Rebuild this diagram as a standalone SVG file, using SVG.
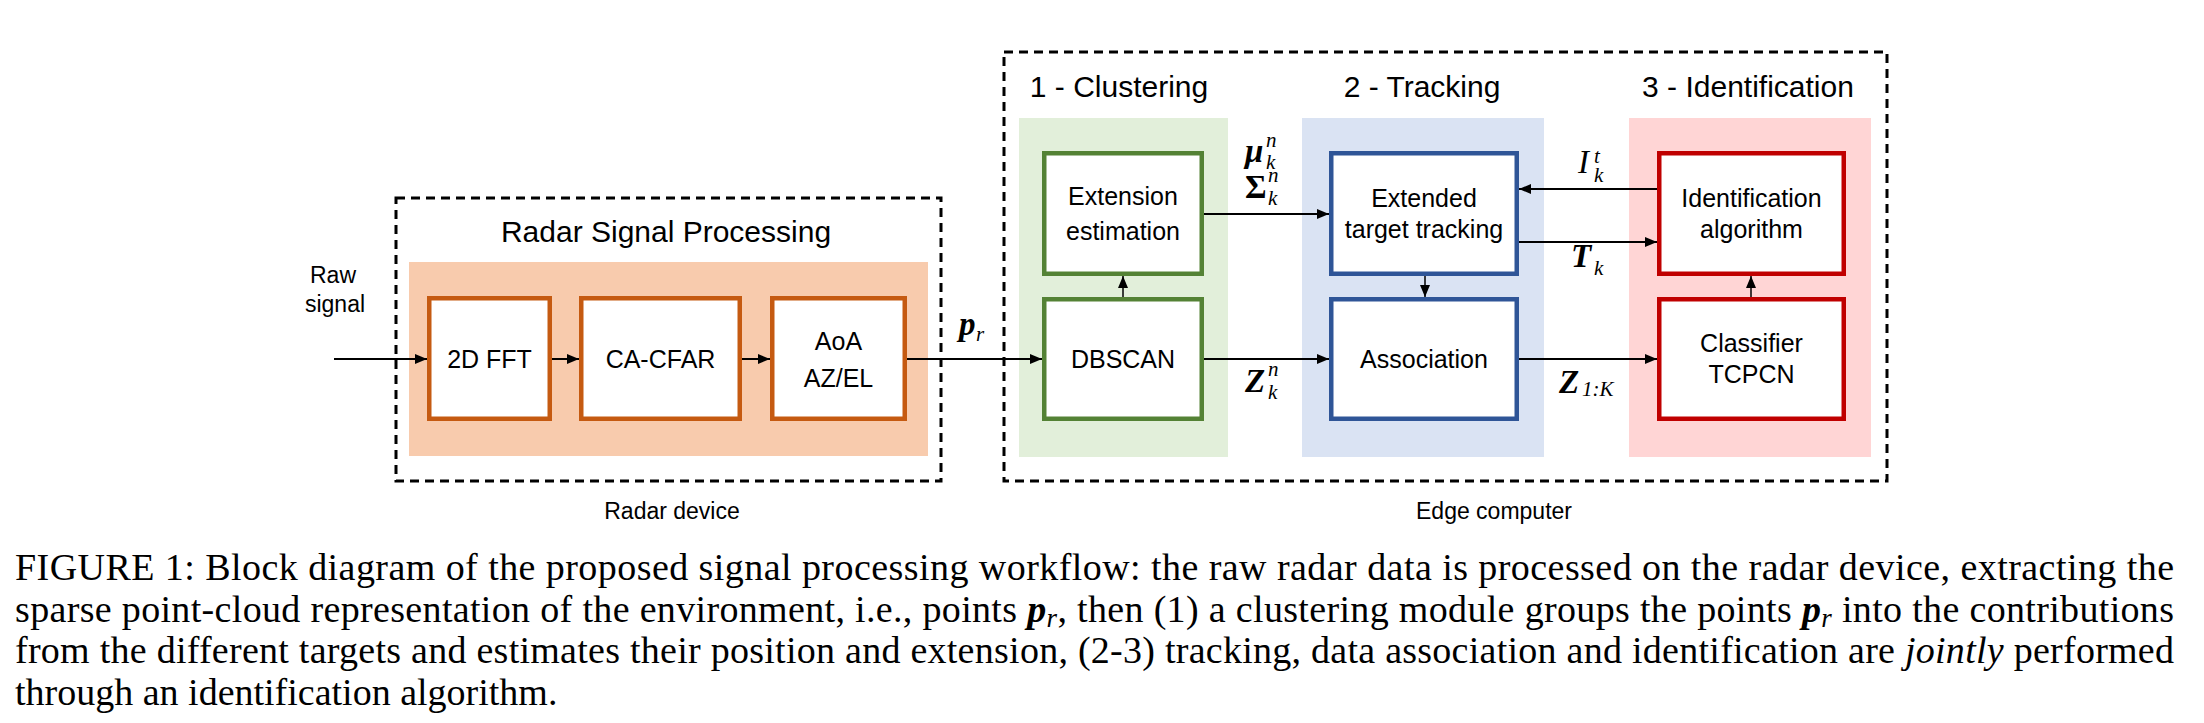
<svg xmlns="http://www.w3.org/2000/svg" width="2204" height="723" viewBox="0 0 2204 723">
<style>
.bg{stroke:none}
.dash{fill:none;stroke:#000;stroke-width:3;stroke-dasharray:9 6}
.box{fill:#fff;stroke-width:4.5}
.or{stroke:#C55A11}
.gr{stroke:#548235}
.bl{stroke:#2F5597}
.rd{stroke:#C00000}
.t{font-family:"Liberation Sans",Arial,sans-serif;fill:#000;text-anchor:middle}
.n{font-size:25px}
.h{font-size:30px}
.s{font-size:23px}
.m{font-family:"Liberation Serif","DejaVu Serif",serif;fill:#000;font-size:33px}
.sc{font-size:21px;font-style:italic;font-weight:normal}
.cap{font-family:"Liberation Serif","Times New Roman",serif;font-size:38px;fill:#000}
.c{stroke:#000;stroke-width:2;fill:none;marker-end:url(#ah)}
.c1{stroke:#000;stroke-width:1.5;fill:none;marker-end:url(#ah)}
</style>
<defs>
<marker id="ah" markerUnits="userSpaceOnUse" markerWidth="12" markerHeight="10" refX="12" refY="5" orient="auto">
<path d="M0,0 L12,5 L0,10 z" fill="#000"/>
</marker>
</defs>
<rect width="2204" height="723" fill="#fff"/>

<g id="radar-device">
<rect class="dash" x="396" y="198" width="545" height="283"/>
<text class="t s" x="672" y="519">Radar device</text>
</g>
<g id="radar-signal-processing">
<rect class="bg" x="409" y="262" width="519" height="194" fill="#F8CBAD"/>
<text class="t h" x="666" y="242">Radar Signal Processing</text>
</g>
<g id="edge-computer">
<rect class="dash" x="1004" y="52" width="883" height="429"/>
<text class="t s" x="1494" y="519">Edge computer</text>
</g>
<g id="clustering">
<rect class="bg" x="1019" y="118" width="209" height="339" fill="#E2EFDA"/>
<text class="t h" x="1119" y="97">1 - Clustering</text>
</g>
<g id="tracking">
<rect class="bg" x="1302" y="118" width="242" height="339" fill="#DAE3F3"/>
<text class="t h" x="1422" y="97">2 - Tracking</text>
</g>
<g id="identification">
<rect class="bg" x="1629" y="118" width="242" height="339" fill="#FFD5D5"/>
<text class="t h" x="1748" y="97">3 - Identification</text>
</g>

<g id="raw-signal">
<text class="t s" x="333" y="283">Raw</text>
<text class="t s" x="335" y="312">signal</text>
</g>

<g id="fft">
<rect class="box or" x="429.25" y="298.25" width="120.5" height="120.5"/>
<text class="t n" x="489.5" y="368">2D FFT</text>
</g>
<g id="cacfar">
<rect class="box or" x="581.25" y="298.25" width="158.5" height="120.5"/>
<text class="t n" x="660.5" y="368">CA-CFAR</text>
</g>
<g id="aoa">
<rect class="box or" x="772.25" y="298.25" width="132.5" height="120.5"/>
<text class="t n" x="838.5" y="350">AoA</text>
<text class="t n" x="838.5" y="387">AZ/EL</text>
</g>
<g id="extension">
<rect class="box gr" x="1044.25" y="153.25" width="157.5" height="120.5"/>
<text class="t n" x="1123" y="205">Extension</text>
<text class="t n" x="1123" y="240">estimation</text>
</g>
<g id="dbscan">
<rect class="box gr" x="1044.25" y="299.25" width="157.5" height="119.5"/>
<text class="t n" x="1123" y="368">DBSCAN</text>
</g>
<g id="ett">
<rect class="box bl" x="1331.25" y="153.25" width="185.5" height="120.5"/>
<text class="t n" x="1424" y="207">Extended</text>
<text class="t n" x="1424" y="238">target tracking</text>
</g>
<g id="association">
<rect class="box bl" x="1331.25" y="299.25" width="185.5" height="119.5"/>
<text class="t n" x="1424" y="368">Association</text>
</g>
<g id="idalg">
<rect class="box rd" x="1659.25" y="153.25" width="184.5" height="120.5"/>
<text class="t n" x="1751.5" y="207">Identification</text>
<text class="t n" x="1751.5" y="238">algorithm</text>
</g>
<g id="classifier">
<rect class="box rd" x="1659.25" y="299.25" width="184.5" height="119.5"/>
<text class="t n" x="1751.5" y="352">Classifier</text>
<text class="t n" x="1751.5" y="383">TCPCN</text>
</g>

<g id="connectors">
<line class="c" x1="334" y1="359" x2="427" y2="359"/>
<line class="c" x1="552" y1="359" x2="579" y2="359"/>
<line class="c" x1="742" y1="359" x2="770" y2="359"/>
<line class="c" x1="907" y1="359" x2="1042" y2="359"/>
<line class="c1" x1="1123" y1="297" x2="1123" y2="276"/>
<line class="c" x1="1204" y1="214" x2="1329" y2="214"/>
<line class="c" x1="1657" y1="189" x2="1519" y2="189"/>
<line class="c" x1="1519" y1="242" x2="1657" y2="242"/>
<line class="c1" x1="1425" y1="276" x2="1425" y2="297"/>
<line class="c" x1="1204" y1="359" x2="1329" y2="359"/>
<line class="c" x1="1519" y1="359" x2="1657" y2="359"/>
<line class="c1" x1="1751" y1="297" x2="1751" y2="276"/>
</g>

<g id="labels">
<text class="m"><tspan x="959" y="335" font-weight="bold" font-style="italic">p</tspan><tspan class="sc" x="976" y="341">r</tspan></text>

<text class="m"><tspan x="1245" y="162" font-weight="bold" font-style="italic">μ</tspan><tspan class="sc" x="1266" y="147">n</tspan><tspan class="sc" x="1266" y="169">k</tspan><tspan x="1245" y="198" font-weight="bold">Σ</tspan><tspan class="sc" x="1268" y="182">n</tspan><tspan class="sc" x="1268" y="205">k</tspan></text>

<text class="m"><tspan x="1245" y="392" font-weight="bold" font-style="italic">Z</tspan><tspan class="sc" x="1268" y="376">n</tspan><tspan class="sc" x="1268" y="399">k</tspan></text>

<text class="m"><tspan x="1578" y="173" font-style="italic">I</tspan><tspan class="sc" x="1594" y="163">t</tspan><tspan class="sc" x="1594" y="182">k</tspan></text>

<text class="m"><tspan x="1571" y="267" font-weight="bold" font-style="italic">T</tspan><tspan class="sc" x="1594" y="275">k</tspan></text>

<text class="m"><tspan x="1559" y="393" font-weight="bold" font-style="italic">Z</tspan><tspan class="sc" x="1582" y="396" font-style="normal">1:</tspan><tspan class="sc">K</tspan></text>
</g>

<g id="caption">
<text class="cap" x="15" y="580" textLength="2159" lengthAdjust="spacing">FIGURE 1: Block diagram of the proposed signal processing workflow: the raw radar data is processed on the radar device, extracting the</text>
<text class="cap" x="15" y="622" textLength="2159" lengthAdjust="spacing">sparse point-cloud representation of the environment, i.e., points <tspan font-weight="bold" font-style="italic">p</tspan><tspan font-style="italic" font-size="27" dy="5">r</tspan><tspan dy="-5">, then (1) a clustering module groups the points </tspan><tspan font-weight="bold" font-style="italic">p</tspan><tspan font-style="italic" font-size="27" dy="5">r</tspan><tspan dy="-5"> into the contributions</tspan></text>
<text class="cap" x="15" y="663" textLength="2159" lengthAdjust="spacing">from the different targets and estimates their position and extension, (2-3) tracking, data association and identification are <tspan font-style="italic">jointly</tspan> performed</text>
<text class="cap" x="15" y="705">through an identification algorithm.</text>
</g>
</svg>
